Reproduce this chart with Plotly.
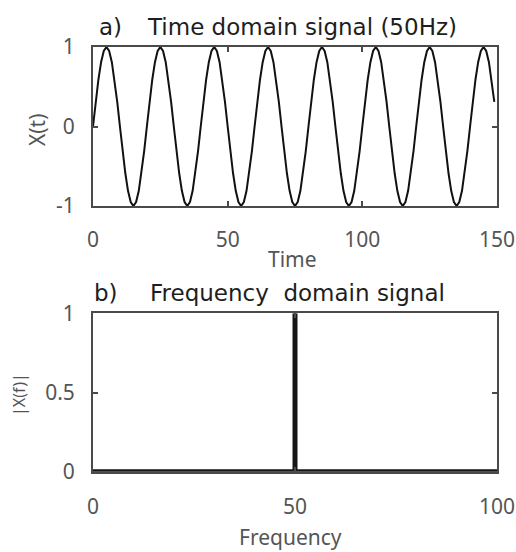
import plotly.graph_objects as go

# ---- data ----
# time axis in ms (1 kHz sampling, 150 samples)
time_ms = list(range(150))
# one 20 ms cycle of the 50 Hz signal, sampled every 1 ms
cycle_samples = [0.0, 0.309, 0.588, 0.809, 0.951, 1.0, 0.951, 0.809, 0.588, 0.309,
                 0.0, -0.309, -0.588, -0.809, -0.951, -1.0, -0.951, -0.809, -0.588, -0.309]
signal = [cycle_samples[t % len(cycle_samples)] for t in time_ms]

# magnitude spectrum: single line at 50 Hz
freq_hz = [0, 50, 50, 50, 100]
magnitude = [0, 0, 1, 0, 0]

time_ticks = [0, 50, 100, 150]
amp_ticks = [-1, 0, 1]
amp_tick_text = ["-1", "0", "1"]
freq_ticks = [0, 50, 100]
mag_ticks = [0, 0.5, 1]
mag_tick_text = ["0", "0.5", "1"]

W, H = 516, 552
def px(x):
    return x / W
def py(y):
    return 1 - y / H

fig = go.Figure()
fig.add_trace(go.Scatter(x=time_ms, y=signal, mode="lines",
                         line=dict(color="#111111", width=2),
                         xaxis="x", yaxis="y", showlegend=False))
fig.add_trace(go.Scatter(x=freq_hz, y=magnitude, mode="lines",
                         line=dict(color="#161616", width=5),
                         xaxis="x2", yaxis="y2", showlegend=False))

tick_font = dict(family="Noto Sans", size=21, color="#555555")
axis_common = dict(showline=True, linecolor="#4a4a4a", linewidth=2, mirror="allticks",
                   ticks="inside", ticklen=5, tickwidth=1.5, tickcolor="#4a4a4a",
                   showgrid=False, zeroline=False, tickfont=tick_font, fixedrange=True,
                   automargin=False)

fig.update_layout(
    template="none",
    width=W, height=H,
    margin=dict(l=0, r=0, t=0, b=0),
    paper_bgcolor="white", plot_bgcolor="white",
    xaxis=dict(domain=[px(93), px(497)], range=[0, 150], tickvals=time_ticks,
               anchor="y", ticklabelstandoff=14, **axis_common),
    yaxis=dict(domain=[py(206), py(47)], range=[-1, 1], tickvals=amp_ticks,
               ticktext=amp_tick_text, anchor="x", ticklabelstandoff=12, **axis_common),
    xaxis2=dict(domain=[px(93), px(497)], range=[0, 100], tickvals=freq_ticks,
                anchor="y2", ticklabelstandoff=15, **axis_common),
    yaxis2=dict(domain=[py(471.7), py(313.3)], range=[0, 1], tickvals=mag_ticks,
                ticktext=mag_tick_text, anchor="x2", ticklabelstandoff=12, **axis_common),
)

title_font = dict(family="DejaVu Sans", size=23, color="#1e1e1e")
label_font = dict(family="Noto Sans", size=21, color="#555555")

annotations = [
    dict(text="a)", x=px(97), y=py(27), xanchor="left", yanchor="middle", font=title_font),
    dict(text="Time domain signal (50Hz)", x=px(145), y=py(27), xanchor="left",
         yanchor="middle", font=title_font),
    dict(text="b)", x=px(92), y=py(293), xanchor="left", yanchor="middle", font=title_font),
    dict(text="Frequency\u00a0 domain signal", x=px(148), y=py(293), xanchor="left",
         yanchor="middle", font=title_font),
    dict(text="Time", x=px(292), y=py(259), xanchor="center", yanchor="middle", font=label_font),
    dict(text="Frequency", x=px(290), y=py(537), xanchor="center", yanchor="middle", font=label_font),
    dict(text="X(t)", x=px(36.5), y=py(129.5), xanchor="center", yanchor="middle",
         textangle=-90, font=label_font),
    dict(text="|X(f)|", x=px(19), y=py(395), xanchor="center", yanchor="middle",
         textangle=-90, font=dict(family="Noto Sans", size=16, color="#555555")),
]
for a in annotations:
    a.update(xref="paper", yref="paper", showarrow=False)
fig.update_layout(annotations=annotations)

fig.write_html("out.html")
